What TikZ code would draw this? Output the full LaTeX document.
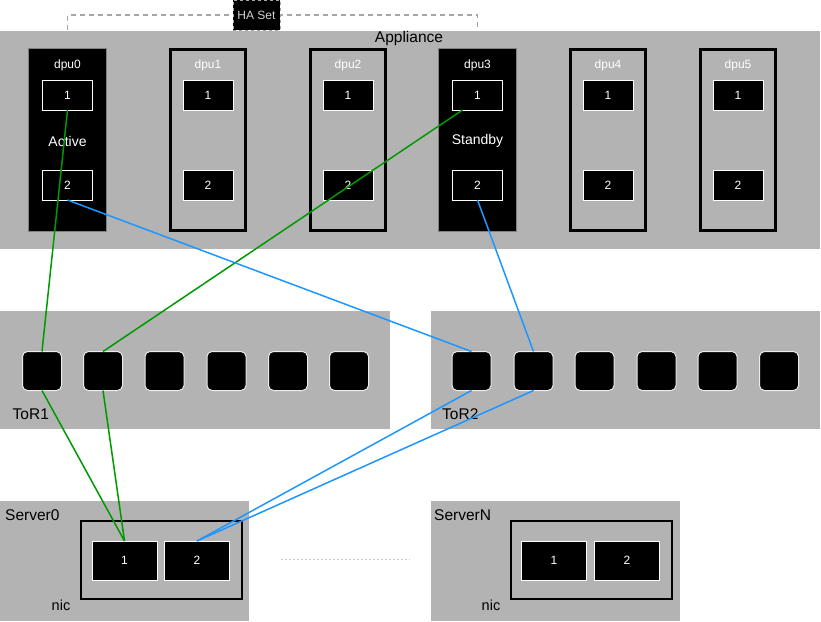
\documentclass[tikz,border=0pt]{standalone}
\usepackage{fontspec}
\setmainfont{Liberation Sans}
\usetikzlibrary{calc}
\definecolor{grayfill}{RGB}{179,179,179}
\definecolor{lgreen}{RGB}{0,153,0}
\definecolor{lblue}{RGB}{30,150,255}
\begin{document}
\begin{tikzpicture}[x=1pt,y=-1pt,
  box/.style={rectangle, inner sep=0pt, outer sep=0pt},
  panel/.style={box, anchor=north west, fill=grayfill, draw=none},
  dpuact/.style={box, anchor=north west, fill=black, draw=gray, line width=1pt, minimum width=78pt, minimum height=183pt},
  dpuidle/.style={box, anchor=north west, fill=grayfill, draw=black, line width=3pt, minimum width=75pt, minimum height=181pt},
  dport/.style={box, fill=black, draw=white, line width=1pt, minimum width=50pt, minimum height=30pt, text=white, font=\fontsize{12}{14}\selectfont},
  tport/.style={box, fill=black, draw=white!85!gray, line width=1pt, rounded corners=5pt, minimum width=39pt, minimum height=39pt},
  sport/.style={box, fill=black, draw=white, line width=1pt, minimum width=65pt, minimum height=39pt, text=white, font=\fontsize{12}{14}\selectfont},
  nicbox/.style={box, anchor=north west, draw=black, line width=2pt, minimum width=161pt, minimum height=78pt},
  bigtxt/.style={font=\fontsize{15.5}{18}\selectfont, text=black, inner sep=0pt},
  dputxt/.style={font=\fontsize{12}{14}\selectfont, text=white, inner sep=0pt},
  statetxt/.style={font=\fontsize{14}{16}\selectfont, text=white, inner sep=0pt},
  nictxt/.style={font=\fontsize{14.5}{17}\selectfont, text=black, inner sep=0pt},
  glink/.style={draw=lgreen, line width=1.5pt},
  blink/.style={draw=lblue, line width=1.5pt},
  hadash/.style={draw=gray!70, line width=1.2pt, dash pattern=on 5pt off 4pt}
]
\useasboundingbox (0,0) rectangle (821,621);

% HA set dashed bracket (behind appliance)
\coordinate (ha1) at (67.5,15);
\coordinate (ha2) at (477.5,15);
\coordinate (ha0) at (67.5,48);
\coordinate (ha3) at (477.5,48);
\draw[hadash] (ha0) -- (ha1) -- (ha2) -- (ha3);

% panels
\node[panel, minimum width=820pt, minimum height=218pt] (app) at (0,31) {};
\node[bigtxt] (applab) at (409,38) {Appliance};
\node[box, fill=black, draw=gray!70, dashed, minimum width=47pt, minimum height=30pt, text=gray!35, font=\fontsize{12}{14}\selectfont] (haset) at (256.5,15) {HA Set};

\node[panel, minimum width=390pt, minimum height=118pt] (tor1) at (0,311) {};
\node[panel, minimum width=389pt, minimum height=118pt] (tor2) at (431,311) {};
\node[panel, minimum width=249pt, minimum height=120pt] (srv0) at (0,501) {};
\node[panel, minimum width=249pt, minimum height=120pt] (srvn) at (431,501) {};

% dpus
\node[dpuact] (d0) at (28.5,48.5) {};
\node[dpuidle] (d1) at (170.5,49.5) {};
\node[dpuidle] (d2) at (310.5,49.5) {};
\node[dpuact] (d3) at (438.5,48.5) {};
\node[dpuidle] (d4) at (570.5,49.5) {};
\node[dpuidle] (d5) at (700.5,49.5) {};

\foreach \n/\cx in {0/67.5,1/208,2/348,3/477.5,4/608,5/738}{
  \node[dputxt] (d\n lab) at (\cx,65) {dpu\n};
  \node[dport] (d\n a) at (\cx,95) {1};
  \node[dport] (d\n b) at (\cx,185) {2};
}
\node[statetxt] (act) at (67.5,141) {Active};
\node[statetxt] (stby) at (477.5,141) {Standby};

% ToR ports
\foreach \i/\cx in {1/42,2/103,3/164.5,4/226.5,5/288,6/349}{
  \node[tport] (t1p\i) at (\cx,371) {};
}
\foreach \i/\cx in {1/471.5,2/533.5,3/594.5,4/656.5,5/717.5,6/779}{
  \node[tport] (t2p\i) at (\cx,371) {};
}
\node[bigtxt, anchor=west] (tor1lab) at (12.5,414) {ToR1};
\node[bigtxt, anchor=west] (tor2lab) at (442,414) {ToR2};

% servers
\node[bigtxt, anchor=west] (s0lab) at (5,515) {Server0};
\node[bigtxt, anchor=west] (snlab) at (434,515) {ServerN};
\node[nicbox] (nic0) at (81,521) {};
\node[nicbox] (nicn) at (511,521) {};
\node[nictxt] (nic0lab) at (61,605) {nic};
\node[nictxt] (nicnlab) at (491,605) {nic};
\node[sport] (s0a) at (124.5,560.5) {1};
\node[sport] (s0b) at (197,560.5) {2};
\node[sport] (sna) at (554,560.5) {1};
\node[sport] (snb) at (627,560.5) {2};

\coordinate (dot1) at (281,559);
\coordinate (dot2) at (410,559);
\draw[gray!40, line width=1pt, dash pattern=on 2pt off 2pt] (dot1) -- (dot2);

% links
\draw[glink] (d0a.south) -- (t1p1.north);
\draw[glink] ($(d3a.south west)!0.2!(d3a.south east)$) -- (t1p2.north);
\draw[glink] (t1p1.south) -- (s0a.north);
\draw[glink] (t1p2.south) -- (s0a.north);
\draw[blink] (d0b.south) -- (t2p1.north);
\draw[blink] (d3b.south) -- (t2p2.north);
\draw[blink] (t2p1.south) -- (s0b.north);
\draw[blink] (t2p2.south) -- (s0b.north);
\end{tikzpicture}
\end{document}
